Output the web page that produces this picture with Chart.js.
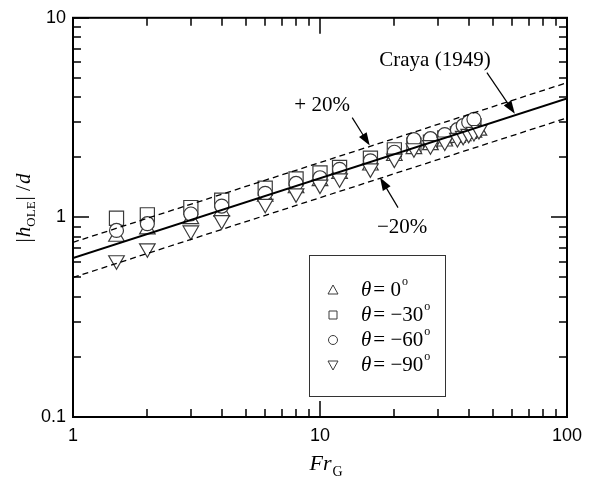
<!DOCTYPE html>
<html>
<head>
<meta charset="utf-8">
<script src="https://cdn.jsdelivr.net/npm/chart.js@4.4.0/dist/chart.umd.min.js"></script>
<style>
  html, body { margin: 0; padding: 0; background: #fff; }
</style>
</head>
<body>
<canvas id="grafica" width="598" height="483"></canvas>
<script>
// Datos (Fr_G frente a |h_OLE|/d)
const froude  = [1.5, 2, 3, 4, 6, 8, 10, 12, 16, 20, 24, 28, 32, 36, 38, 40, 42, 44];
const theta0  = [0.80, 0.87, 0.98, 1.07, 1.27, 1.40, 1.52, 1.65, 1.82, 2.03, 2.20, 2.30, 2.40, 2.50, 2.55, 2.62, 2.66, 2.72];
const theta30 = [0.99, 1.03, 1.12, 1.22, 1.40, 1.56, 1.67, 1.78, 1.98, 2.18, 2.30, 2.38, 2.50, 2.62, 2.70, 2.80, 2.88, null];
const theta60 = [0.86, 0.93, 1.04, 1.14, 1.32, 1.48, 1.58, 1.74, 1.92, 2.12, 2.45, 2.48, 2.60, 2.75, 2.88, 3.00, 3.10, null];
const theta90 = [0.61, 0.70, 0.86, 0.97, 1.17, 1.32, 1.46, 1.57, 1.76, 1.97, 2.22, 2.30, 2.40, 2.50, 2.56, 2.62, 2.68, 2.74];

// Recta de Craya (1949) y bandas de ±20 %
const lineaFr = [1, 100];
const craya   = [0.625, 3.94];
const mas20   = [0.75, 4.73];
const menos20 = [0.5, 3.15];

// Marcas de los ejes
const xTicks = [1, 2, 3, 4, 5, 6, 7, 8, 9, 10, 20, 30, 40, 50, 60, 70, 80, 90, 100];
const yTicks = [0.1, 0.2, 0.3, 0.4, 0.5, 0.6, 0.7, 0.8, 0.9, 1, 2, 3, 4, 5, 6, 7, 8, 9, 10];
const xLabels = [1, 10, 100];
const yLabels = [0.1, 1, 10];

const leyenda = ['0', '\u221230', '\u221260', '\u221290'];

const SERIF = "'Liberation Serif', 'Times New Roman', serif";
const SANS = "'Liberation Sans', Arial, sans-serif";
const GRIS = '#3a3a3a';

function puntos(ys) {
    return froude.map((f, i) => ({ x: f, y: ys[i] }));
}
function recta(ys) {
    return lineaFr.map((f, i) => ({ x: f, y: ys[i] }));
}

function flecha(ctx, x1, y1, x2, y2) {
    const ang = Math.atan2(y2 - y1, x2 - x1);
    const L = 13, W = 4.5;
    ctx.beginPath();
    ctx.moveTo(x1, y1);
    ctx.lineTo(x2 - Math.cos(ang) * L * 0.8, y2 - Math.sin(ang) * L * 0.8);
    ctx.stroke();
    ctx.beginPath();
    ctx.moveTo(x2, y2);
    ctx.lineTo(x2 - Math.cos(ang) * L - Math.sin(ang) * W, y2 - Math.sin(ang) * L + Math.cos(ang) * W);
    ctx.lineTo(x2 - Math.cos(ang) * L + Math.sin(ang) * W, y2 - Math.sin(ang) * L - Math.cos(ang) * W);
    ctx.closePath();
    ctx.fill();
}

// Dibuja una secuencia de trozos de texto [texto, fuente, desplazamiento vertical]
function textoTrozos(ctx, trozos, x, y, centrado) {
    let ancho = 0;
    trozos.forEach(t => { ctx.font = t[1]; ancho += ctx.measureText(t[0]).width + (t[3] || 0); });
    let cx = centrado ? x - ancho / 2 : x;
    trozos.forEach(t => {
        ctx.font = t[1];
        ctx.fillText(t[0], cx, y + (t[2] || 0));
        cx += ctx.measureText(t[0]).width + (t[3] || 0);
    });
}

const marcoPlugin = {
    id: 'marco',
    afterDatasetsDraw(chart) {
        const { ctx, chartArea: a, scales } = chart;
        const sx = scales.x, sy = scales.y;
        ctx.save();
        ctx.strokeStyle = '#000';
        ctx.fillStyle = '#000';

        // marco
        ctx.lineWidth = 2;
        ctx.strokeRect(a.left, a.top, a.right - a.left, a.bottom - a.top);

        // marcas hacia dentro en los cuatro lados
        ctx.lineWidth = 1.5;
        ctx.beginPath();
        xTicks.forEach(v => {
            const px = Math.round(sx.getPixelForValue(v));
            const len = xLabels.includes(v) ? 16 : 8;
            ctx.moveTo(px, a.bottom); ctx.lineTo(px, a.bottom - len);
            ctx.moveTo(px, a.top); ctx.lineTo(px, a.top + len);
        });
        yTicks.forEach(v => {
            const py = Math.round(sy.getPixelForValue(v));
            const len = yLabels.includes(v) ? 16 : 8;
            ctx.moveTo(a.left, py); ctx.lineTo(a.left + len, py);
            ctx.moveTo(a.right, py); ctx.lineTo(a.right - len, py);
        });
        ctx.stroke();

        // títulos de los ejes
        ctx.textBaseline = 'alphabetic';
        ctx.textAlign = 'left';
        textoTrozos(ctx, [
            ['Fr', 'italic 22px ' + SERIF, 0, 1],
            ['G', '14px ' + SERIF, 6]
        ], (a.left + a.right) / 2 + 6, 470, true);

        ctx.save();
        ctx.translate(30, 208);
        ctx.rotate(-Math.PI / 2);
        textoTrozos(ctx, [
            ['|', '21px ' + SERIF, 0, 1],
            ['h', 'italic 21px ' + SERIF, 0],
            ['OLE', '13px ' + SERIF, 5, 1],
            ['| /', '21px ' + SERIF, 0, 1],
            ['d', 'italic 21px ' + SERIF, 0]
        ], 0, 0, true);
        ctx.restore();

        // anotaciones
        ctx.lineWidth = 1.2;
        const P = (f, h) => [sx.getPixelForValue(f), sy.getPixelForValue(h)];
        ctx.font = '21px ' + SERIF;
        ctx.textAlign = 'center';
        ctx.textBaseline = 'middle';
        let p = P(29.2, 6.1);
        ctx.fillText('Craya (1949)', p[0], p[1]);
        let t = P(47.4, 5.31), q = P(61.5, 3.31);
        flecha(ctx, t[0], t[1], q[0], q[1]);

        p = P(10.2, 3.63);
        ctx.fillText('+ 20%', p[0], p[1]);
        t = P(13.5, 3.16); q = P(15.9, 2.29);
        flecha(ctx, t[0], t[1], q[0], q[1]);

        p = P(21.5, 0.89);
        ctx.fillText('\u221220%', p[0], p[1]);
        t = P(20.7, 1.12); q = P(17.5, 1.585);
        flecha(ctx, t[0], t[1], q[0], q[1]);

        // leyenda
        ctx.lineWidth = 1;
        ctx.strokeStyle = '#333';
        ctx.strokeRect(309.5, 255.5, 136, 141);
        ctx.textAlign = 'left';
        ctx.textBaseline = 'middle';
        ctx.strokeStyle = GRIS;
        leyenda.forEach((ang, i) => {
            const y = 290 + i * 25;
            const x = 333;
            ctx.beginPath();
            if (i === 0) {
                ctx.moveTo(x, y - 5); ctx.lineTo(x + 5, y + 4); ctx.lineTo(x - 5, y + 4); ctx.closePath();
            } else if (i === 1) {
                ctx.rect(x - 4, y - 4, 8, 8);
            } else if (i === 2) {
                ctx.arc(x, y, 4.5, 0, Math.PI * 2);
            } else {
                ctx.moveTo(x, y + 5); ctx.lineTo(x + 5, y - 4); ctx.lineTo(x - 5, y - 4); ctx.closePath();
            }
            ctx.stroke();
            textoTrozos(ctx, [
                ['\u03b8', 'italic 21px ' + SERIF, 0, 2],
                ['= ' + ang, '21px ' + SERIF, 0, 1],
                ['o', '12px ' + SERIF, -8]
            ], 361, y, false);
        });
        ctx.restore();
    }
};

function serieMarcas(label, ys, estilo, radio, rot, orden) {
    return {
        type: 'scatter',
        label: label,
        data: puntos(ys),
        pointStyle: estilo,
        pointRadius: radio,
        pointRotation: rot,
        pointBackgroundColor: '#fff',
        pointBorderColor: GRIS,
        pointBorderWidth: 1.2,
        order: orden
    };
}

function serieRecta(label, ys, ancho, guiones) {
    return {
        type: 'line',
        label: label,
        data: recta(ys),
        borderColor: '#000',
        borderWidth: ancho,
        borderDash: guiones,
        pointRadius: 0,
        fill: false,
        tension: 0,
        order: 0
    };
}

function generarGrafica() {
    const ctx = document.getElementById('grafica').getContext('2d');
    new Chart(ctx, {
        data: {
            datasets: [
                serieMarcas('\u03b8 = 0\u00b0', theta0, 'triangle', 9, 0, 3),
                serieMarcas('\u03b8 = \u221230\u00b0', theta30, 'rect', 10, 0, 4),
                serieMarcas('\u03b8 = \u221260\u00b0', theta60, 'circle', 7, 0, 2),
                serieMarcas('\u03b8 = \u221290\u00b0', theta90, 'triangle', 9, 180, 1),
                serieRecta('Craya (1949)', craya, 2, []),
                serieRecta('+20%', mas20, 1.3, [6, 4]),
                serieRecta('-20%', menos20, 1.3, [6, 4])
            ]
        },
        options: {
            responsive: false,
            animation: false,
            layout: { padding: { top: 17, right: 31, left: 0, bottom: 0 } },
            plugins: {
                legend: { display: false },
                tooltip: { enabled: false }
            },
            scales: {
                x: {
                    type: 'logarithmic',
                    min: 1,
                    max: 100,
                    grid: { display: false, drawTicks: false },
                    border: { display: false },
                    afterBuildTicks: s => { s.ticks = xTicks.map(v => ({ value: v })); },
                    afterFit: s => { s.height = 66; },
                    ticks: {
                        autoSkip: false,
                        maxRotation: 0,
                        padding: 8,
                        color: '#000',
                        font: { family: SANS, size: 18 },
                        callback: v => xLabels.includes(v) ? String(v) : ''
                    }
                },
                y: {
                    type: 'logarithmic',
                    min: 0.1,
                    max: 10,
                    grid: { display: false, drawTicks: false },
                    border: { display: false },
                    afterBuildTicks: s => { s.ticks = yTicks.map(v => ({ value: v })); },
                    afterFit: s => { s.width = 73; },
                    ticks: {
                        autoSkip: false,
                        padding: 7,
                        color: '#000',
                        font: { family: SANS, size: 18 },
                        callback: v => yLabels.includes(v) ? String(v) : ''
                    }
                }
            }
        },
        plugins: [marcoPlugin]
    });
}

document.addEventListener('DOMContentLoaded', generarGrafica);
</script>
</body>
</html>
